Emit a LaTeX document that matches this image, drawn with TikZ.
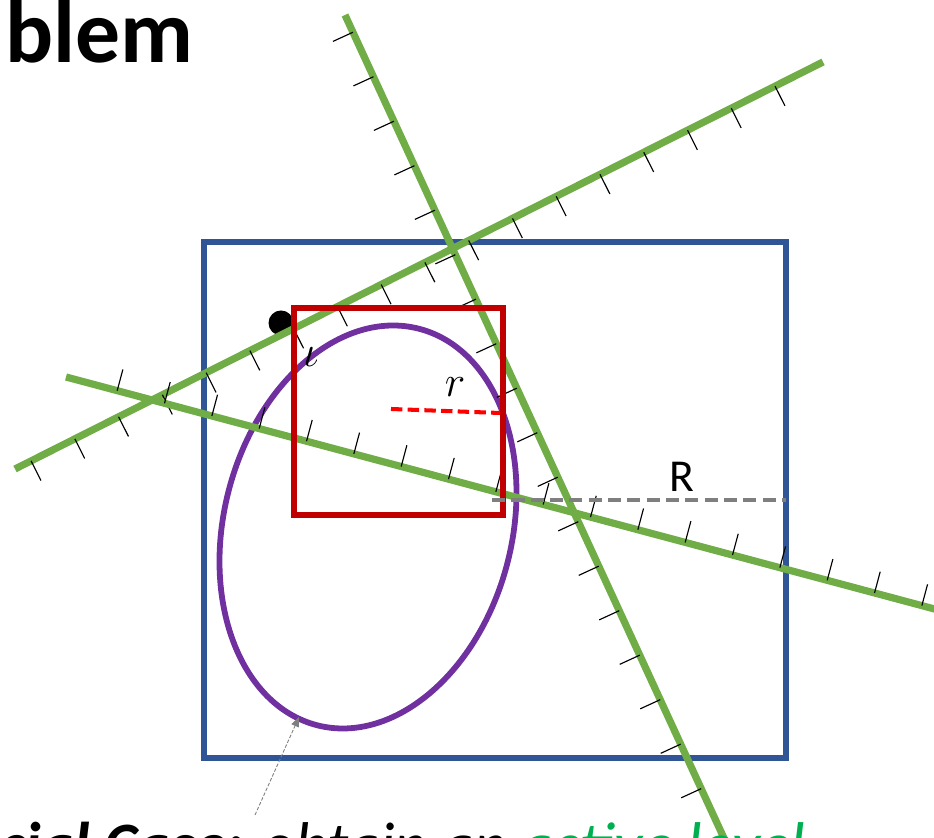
\documentclass[tikz,border=0pt]{standalone}
\usepackage{fontspec}
\setmainfont{Carlito}
\usepackage{xcolor}
\definecolor{hpgreen}{RGB}{112,173,71}
\definecolor{boxblue}{RGB}{47,85,151}
\definecolor{boxred}{RGB}{192,0,0}
\definecolor{ellpurple}{RGB}{112,48,160}
\definecolor{dashgray}{RGB}{127,127,127}
\definecolor{notegreen}{RGB}{0,176,80}
\usetikzlibrary{arrows.meta,calc}

\begin{document}
\begin{tikzpicture}[x=0.02cm,y=0.02cm,every node/.style={inner sep=0pt},
    hyper/.style={hpgreen,line width=4.1pt},
    hatch/.style={black,line width=0.65pt}]
  \useasboundingbox (0,0) rectangle (934,838);
  %% Title (cut off)
  \node[anchor=base west,font=\fontsize{51}{60}\selectfont\bfseries]
        (title) at (5,775) {blem};
  %% Outer box
  \draw[boxblue,line width=3.2pt] (204,80) rectangle (786,596);
  %% Convex body
  \draw[ellpurple,line width=3.3pt,rotate around={75.6:(368,311)}]
        (368,311) ellipse [x radius=204.7,y radius=144];
  %% Current point
  \node[circle,fill=black,minimum size=0.5cm] (pt) at (281,515) {};
  \node[font=\fontsize{30}{32}\selectfont] (iota) at (311,481) {$\iota$};
  %% Hyperplane A
  \coordinate (a1) at (345,823);
  \coordinate (a2) at (729.6,-12.4);
  \draw[hyper] (a1) -- (a2);
  \foreach \k in {0,...,17}
    \draw[hatch] ($(a1)!{(19+49*\k)/920}!(a2)$) -- ++(204.7:22);
  %% Hyperplane B
  \coordinate (b1) at (15,369);
  \coordinate (b2) at (823,776);
  \draw[hyper] (b1) -- (b2);
  \foreach \k in {0,...,17}
    \draw[hatch] ($(b1)!{(18+49*\k)/904.7}!(b2)$) -- ++(-63.3:22);
  %% Hyperplane C
  \coordinate (c1) at (66,461);
  \coordinate (c2) at (954.7,223.6);
  \draw[hyper] (c1) -- (c2);
  \foreach \k in {0,...,17}
    \draw[hatch] ($(c1)!{(53+49*\k)/920}!(c2)$) -- ++(75:22);
  %% Inner box
  \draw[boxred,line width=3.4pt] (294,323) rectangle (503,530);
  %% Radii
  \coordinate (r1) at (391,429);
  \coordinate (r2) at (500,425);
  \draw[red,line width=2.3pt,dash pattern=on 6.5pt off 3pt] (r1) -- (r2);
  \node[font=\fontsize{28}{30}\selectfont] (rlab) at (455,451) {$r$};
  \coordinate (R1) at (492,338);
  \coordinate (R2) at (786,338);
  \draw[dashgray,line width=2.8pt,dash pattern=on 7.5pt off 3.5pt] (R1) -- (R2);
  \node[font=\fontsize{26}{30}\selectfont] (Rlab) at (682,361) {R};
  %% Note at the bottom (cut off)
  \coordinate (n1) at (255,23);
  \coordinate (n2) at (299,121);
  \draw[dashgray,line width=0.5pt,dash pattern=on 2pt off 1pt,
        -{Triangle[length=5.5pt,width=4.5pt]}] (n1) -- (n2);
  \node[anchor=base west,font=\fontsize{36}{40}\selectfont\itshape]
        (note) at (-95,-29) {\textbf{Special Case:} obtain an
        \textcolor{notegreen}{active level}};
\end{tikzpicture}
\end{document}
